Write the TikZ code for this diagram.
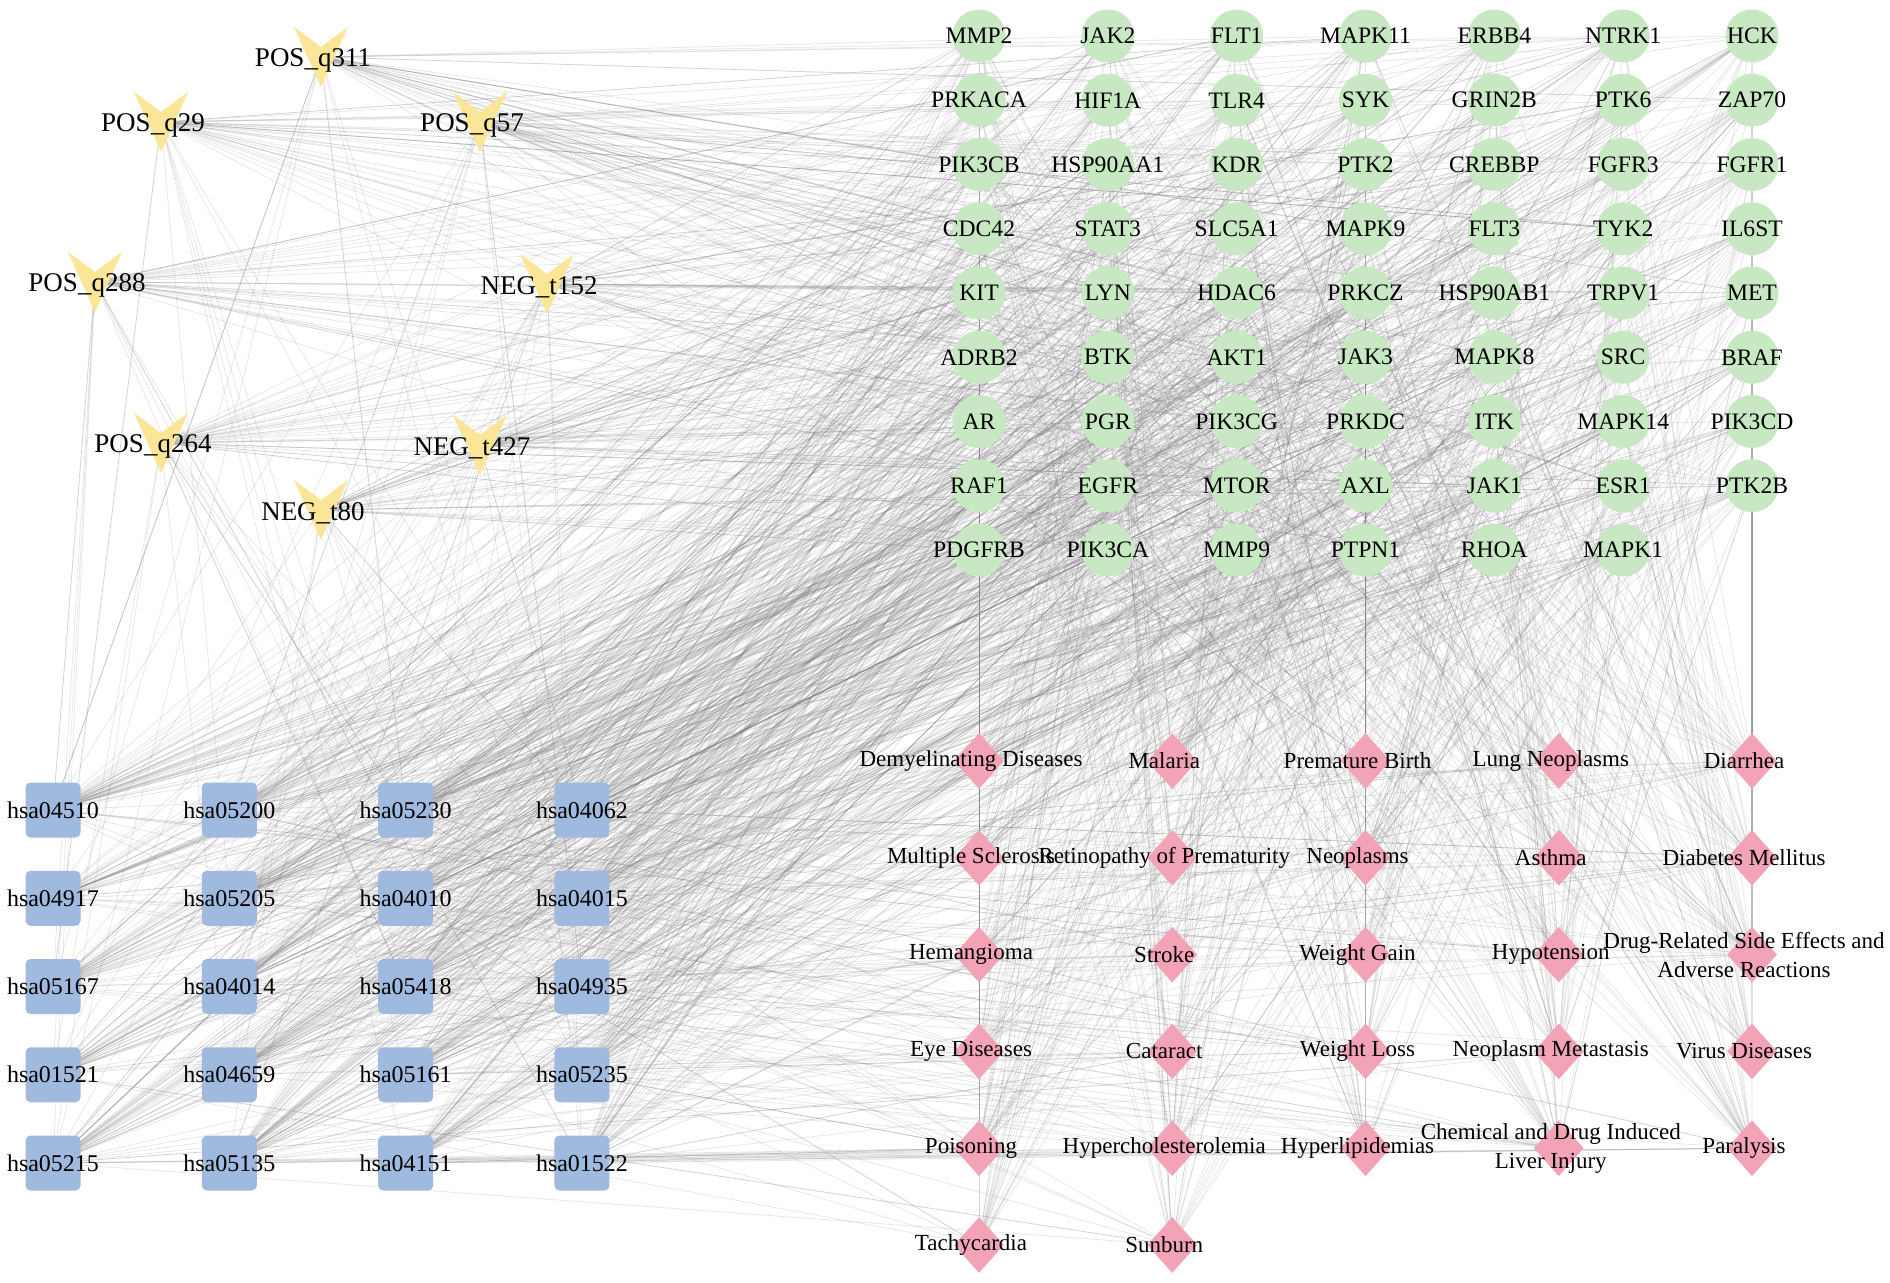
\documentclass[tikz,border=0pt]{standalone}
\usepackage{fontspec}
\setmainfont{Liberation Serif}
\usetikzlibrary{shapes.geometric,backgrounds}
\definecolor{gfill}{RGB}{200,232,195}
\definecolor{bfill}{RGB}{160,185,222}
\definecolor{pfill}{RGB}{243,163,182}
\definecolor{vfill}{RGB}{250,230,150}
\definecolor{edgec}{RGB}{135,135,135}
\begin{document}
\begin{tikzpicture}[x=0.5pt,y=-0.5pt,
  gnode/.style={circle,fill=gfill,minimum size=26.5pt,inner sep=0pt},
  bnode/.style={rectangle,rounded corners=2.5pt,fill=bfill,minimum size=27.5pt,inner sep=0pt},
  pnode/.style={diamond,fill=pfill,minimum width=25pt,minimum height=28pt,inner sep=0pt},
  cnode/.style={circle,minimum size=1pt,inner sep=0pt},
  gtext/.style={font=\fontsize{11.8}{13}\selectfont,inner sep=0pt},
  btext/.style={font=\fontsize{12}{13}\selectfont,inner sep=0pt},
  ptext/.style={font=\fontsize{11.5}{14.5}\selectfont,inner sep=0pt,align=center},
  ctext/.style={font=\fontsize{13.5}{15}\selectfont,inner sep=0pt},
  linkline/.style={draw=edgec,draw opacity=0.2,line width=0.38pt},
  strongline/.style={draw=edgec,draw opacity=0.8,line width=0.5pt}]
\useasboundingbox (0,0) rectangle (1890,1283);

% compounds (V shapes)
\foreach \nm/\x/\y [count=\i] in {POS\_q311/321/57, POS\_q29/161/122, POS\_q57/480/122,
  POS\_q288/95/282, NEG\_t152/547/284, POS\_q264/161/443, NEG\_t427/480/445, NEG\_t80/321/510} {
  \fill[vfill] (\x-27,\y-30) -- (\x,\y-10) -- (\x+27,\y-30) -- (\x,\y+30) -- cycle;
  \node[cnode] (c\i) at (\x,\y) {};
  \node[ctext] at (\x-8,\y+3) {\nm};
}

% targets (green circles)
\foreach \nm [count=\i] in {MMP2,JAK2,FLT1,MAPK11,ERBB4,NTRK1,HCK,
  PRKACA,HIF1A,TLR4,SYK,GRIN2B,PTK6,ZAP70,
  PIK3CB,HSP90AA1,KDR,PTK2,CREBBP,FGFR3,FGFR1,
  CDC42,STAT3,SLC5A1,MAPK9,FLT3,TYK2,IL6ST,
  KIT,LYN,HDAC6,PRKCZ,HSP90AB1,TRPV1,MET,
  ADRB2,BTK,AKT1,JAK3,MAPK8,SRC,BRAF,
  AR,PGR,PIK3CG,PRKDC,ITK,MAPK14,PIK3CD,
  RAF1,EGFR,MTOR,AXL,JAK1,ESR1,PTK2B,
  PDGFRB,PIK3CA,MMP9,PTPN1,RHOA,MAPK1} {
  \pgfmathsetmacro\gx{979+128.83*mod(\i-1,7)}
  \pgfmathsetmacro\gy{36+64.25*floor((\i-1)/7)}
  \node[gnode] (g\i) at (\gx,\gy) {};
  \node[gtext] at (\gx,\gy) {\nm};
}

% pathways (blue squares)
\foreach \nm [count=\i] in {hsa04510,hsa05200,hsa05230,hsa04062,
  hsa04917,hsa05205,hsa04010,hsa04015,
  hsa05167,hsa04014,hsa05418,hsa04935,
  hsa01521,hsa04659,hsa05161,hsa05235,
  hsa05215,hsa05135,hsa04151,hsa01522} {
  \pgfmathsetmacro\bx{53+176.33*mod(\i-1,4)}
  \pgfmathsetmacro\by{810+88.25*floor((\i-1)/4)}
  \node[bnode] (b\i) at (\bx,\by) {};
  \node[btext] at (\bx,\by) {\nm};
}

% diseases (pink diamonds)
\foreach \nm [count=\i] in {Demyelinating Diseases,Malaria,Premature Birth,Lung Neoplasms,Diarrhea,
  Multiple Sclerosis,Retinopathy of Prematurity,Neoplasms,Asthma,Diabetes Mellitus,
  Hemangioma,Stroke,Weight Gain,Hypotension,{Drug-Related Side Effects and\\Adverse Reactions},
  Eye Diseases,Cataract,Weight Loss,Neoplasm Metastasis,Virus Diseases,
  Poisoning,Hypercholesterolemia,Hyperlipidemias,{Chemical and Drug Induced\\Liver Injury},Paralysis,
  Tachycardia,Sunburn} {
  \pgfmathsetmacro\px{979+193.25*mod(\i-1,5)}
  \pgfmathsetmacro\py{761+96.8*floor((\i-1)/5)}
  \node[pnode] (p\i) at (\px,\py) {};
  \node[ptext] at (\px-8,\py) {\nm};
}

\begin{pgfonlayer}{background}
  \fill[white] (0,0) rectangle (1890,1283);
  \pgfmathsetseed{7919}
  % compound - target
  \foreach \k in {1,...,8} {
    \foreach \j in {1,...,35} {
      \pgfmathtruncatemacro\rb{1+floor(62*rnd)}
      \draw[linkline] (c\k.center) -- (g\rb.center);
    }
  }
  % compound - pathway
  \foreach \k in {1,...,8} {
    \foreach \j in {1,...,9} {
      \pgfmathtruncatemacro\rb{1+floor(20*rnd)}
      \draw[linkline] (c\k.center) -- (b\rb.center);
    }
  }
  % target - pathway
  \foreach \k in {1,...,62} {
    \foreach \j in {1,...,13} {
      \pgfmathtruncatemacro\rb{1+floor(20*rnd)}
      \draw[linkline] (g\k.center) -- (b\rb.center);
    }
  }
  % target - disease
  \foreach \k in {1,...,62} {
    \foreach \j in {1,...,10} {
      \pgfmathtruncatemacro\rb{1+floor(27*rnd)}
      \draw[linkline] (g\k.center) -- (p\rb.center);
    }
  }
  % pathway - disease
  \foreach \k in {1,...,20} {
    \foreach \j in {1,...,8} {
      \pgfmathtruncatemacro\rb{1+floor(27*rnd)}
      \draw[linkline] (b\k.center) -- (p\rb.center);
    }
  }
  \foreach \u in {17,...,20} {
    \foreach \v in {21,23,25} {
      \draw[linkline] (b\u.center) -- (p\v.center);
    }
  }
  \draw[linkline] (c4.center) -- (b17.center);
  \draw[linkline] (c5.center) -- (b20.center);
  \draw[strongline] (g57.center) -- (p1.center);
  \draw[strongline] (g60.center) -- (p3.center);
  \draw[strongline] (g56.center) -- (p5.center);
\end{pgfonlayer}
\end{tikzpicture}
\end{document}
